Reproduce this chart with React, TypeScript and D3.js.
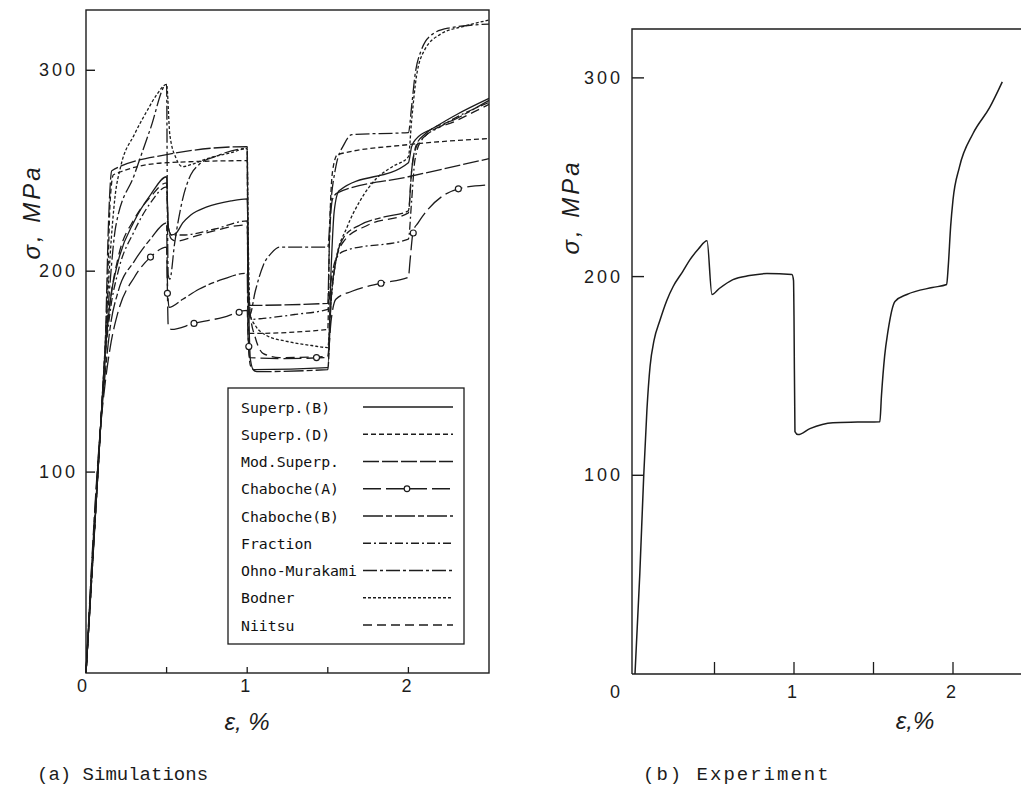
import * as d3 from 'd3';

type Pt = [number, number];

// strain (%), stress (MPa)
const superpB: Pt[] = [
  [0, 0], [0.09, 122], [0.12, 160], [0.15, 185], [0.2, 205], [0.3, 225], [0.4, 238], [0.5, 247],
  [0.51, 222], [0.53, 218], [0.56, 219], [0.6, 224], [0.65, 228], [0.75, 232], [0.9, 235], [1.0, 236],
  [1.01, 180], [1.02, 156], [1.04, 151], [1.5, 152], [1.52, 200], [1.54, 230], [1.57, 240], [2.0, 254],
  [2.02, 262], [2.05, 266], [2.15, 271], [2.3, 278], [2.5, 286],
];
const superpD: Pt[] = [
  [0, 0], [0.09, 122], [0.13, 180], [0.15, 235], [0.17, 248], [0.5, 254], [1.0, 255],
  [1.005, 200], [1.01, 169], [1.5, 171], [1.51, 215], [1.53, 250], [1.56, 258], [2.0, 263], [2.5, 266],
];
const modSuperp: Pt[] = [
  [0, 0], [0.09, 122], [0.12, 165], [0.14, 225], [0.16, 250], [0.5, 258], [1.0, 262],
  [1.005, 200], [1.01, 183], [1.5, 184], [1.51, 215], [1.53, 236], [1.56, 239], [2.0, 247], [2.5, 256],
];
const chabocheA: Pt[] = [
  [0, 0], [0.09, 122], [0.12, 145], [0.15, 162], [0.2, 180], [0.3, 197], [0.4, 207], [0.5, 212],
  [0.505, 190], [0.51, 173], [0.53, 171], [0.67, 174], [0.85, 177], [1.0, 180.5],
  [1.005, 168], [1.015, 157], [1.2, 156.5], [1.5, 157], [1.52, 175], [1.55, 186], [1.65, 190],
  [1.83, 194], [2.0, 197], [2.01, 205], [2.03, 220], [2.06, 224], [2.31, 241], [2.5, 243],
];
const chabocheAMarks: Pt[] = [
  [0.4, 207], [0.505, 189], [0.67, 174], [0.95, 179.5], [1.01, 162.5], [1.43, 157],
  [1.83, 194], [2.03, 219], [2.31, 241],
];
const chabocheB: Pt[] = [
  [0, 0], [0.09, 122], [0.12, 150], [0.15, 172], [0.2, 190], [0.3, 205], [0.4, 216], [0.5, 224],
  [0.505, 195], [0.515, 182], [0.6, 186], [0.7, 191], [0.85, 196], [1.0, 199],
  [1.005, 170], [1.02, 153], [1.06, 150], [1.5, 151], [1.52, 185], [1.55, 205], [1.6, 217],
  [1.7, 223], [1.85, 227], [2.0, 230], [2.02, 250], [2.05, 263], [2.1, 268], [2.3, 276], [2.5, 285],
];
const fraction: Pt[] = [
  [0, 0], [0.09, 122], [0.12, 158], [0.15, 180], [0.2, 200], [0.3, 220], [0.4, 234], [0.5, 242],
  [0.51, 222], [0.53, 218], [0.6, 218], [0.8, 221], [1.0, 225],
  [1.005, 190], [1.02, 176], [1.1, 176.5], [1.3, 178.5], [1.5, 181], [1.52, 195], [1.55, 206],
  [1.6, 210], [2.0, 216], [2.02, 235], [2.04, 255], [2.08, 265], [2.2, 272], [2.5, 284],
];
const ohnoMurakami: Pt[] = [
  [0, 0], [0.09, 122], [0.12, 160], [0.15, 195], [0.184, 222], [0.3, 248], [0.4, 271], [0.5, 293],
  [0.505, 230], [0.51, 198], [0.52, 196], [0.55, 214], [0.6, 236], [0.65, 248], [0.7, 253],
  [0.8, 257], [1.0, 261], [1.005, 200], [1.015, 178], [1.05, 190], [1.1, 203], [1.15, 209],
  [1.2, 212], [1.5, 212], [1.52, 235], [1.55, 252], [1.6, 263], [1.65, 268], [2.0, 269],
  [2.02, 282], [2.04, 297], [2.08, 310], [2.15, 318], [2.25, 321], [2.5, 323],
];
const bodner: Pt[] = [
  [0, 0], [0.09, 122], [0.11, 150], [0.13, 180], [0.15, 208], [0.18, 237], [0.215, 252],
  [0.3, 268], [0.38, 280], [0.44, 288], [0.5, 293], [0.52, 268], [0.56, 256], [0.6, 252],
  [0.65, 253], [0.75, 256], [0.9, 259], [1.0, 261], [1.005, 225], [1.02, 178], [1.05, 173],
  [1.12, 168], [1.25, 165], [1.4, 163], [1.5, 162], [1.52, 185], [1.55, 205], [1.62, 222],
  [1.7, 235], [1.8, 246], [1.9, 252], [2.0, 257], [2.02, 275], [2.05, 297], [2.1, 310],
  [2.2, 318], [2.35, 322], [2.5, 325],
];
const niitsu: Pt[] = [
  [0, 0], [0.09, 122], [0.12, 162], [0.15, 185], [0.2, 207], [0.3, 226], [0.4, 237], [0.5, 244],
  [0.51, 222], [0.53, 216], [0.56, 215], [0.7, 218], [1.0, 223], [1.005, 200], [1.02, 178],
  [1.05, 167], [1.1, 159], [1.2, 157], [1.5, 157.5], [1.52, 185], [1.55, 205], [1.6, 215],
  [1.75, 223], [2.0, 229], [2.02, 250], [2.05, 262], [2.1, 267], [2.3, 275], [2.5, 283],
];
const experiment: Pt[] = [
  [0, 0], [0.03, 50], [0.055, 100], [0.075, 133], [0.095, 155], [0.12, 168], [0.157, 178],
  [0.2, 188], [0.24, 195], [0.3, 202.5], [0.346, 208.5], [0.4, 214], [0.453, 218], [0.484, 191],
  [0.53, 194], [0.616, 198.5], [0.72, 200.5], [0.83, 201.5], [0.987, 201], [0.997, 198],
  [1.0, 180], [1.006, 122], [1.025, 120.5], [1.1, 123.5], [1.245, 126.5], [1.4, 126.8],
  [1.54, 127], [1.55, 140], [1.57, 160], [1.59, 172], [1.635, 187.5], [1.71, 191],
  [1.87, 194.5], [1.96, 196], [1.97, 205], [1.985, 225], [2.0, 238.6], [2.04, 255],
  [2.126, 272], [2.23, 285], [2.31, 298],
];

const legendNames = [
  'Superp.(B)', 'Superp.(D)', 'Mod.Superp.', 'Chaboche(A)', 'Chaboche(B)',
  'Fraction', 'Ohno-Murakami', 'Bodner', 'Niitsu',
];
const simData = [superpB, superpD, modSuperp, chabocheA, chabocheB, fraction, ohnoMurakami, bodner, niitsu];

const yTicks = [100, 200, 300];
const xTicks = [0.5, 1, 1.5, 2];
const xTickLabels = [0, 1, 2];

const dashes: Record<string, string> = {
  'Superp.(B)': '',
  'Superp.(D)': '5 3',
  'Mod.Superp.': '16 3',
  'Chaboche(A)': '18 5',
  'Chaboche(B)': '20 3 6 3',
  Fraction: '8 3 2 3',
  'Ohno-Murakami': '14 3 3 3',
  Bodner: '3 2',
  Niitsu: '9 5',
};

const ink = '#1c1c1c';
const tickFont = '"Liberation Sans", sans-serif';

const xa = d3.scaleLinear().domain([0, 2.5]).range([86, 489]);
const ya = d3.scaleLinear().domain([0, 330]).range([673, 10]);
const xb = d3.scaleLinear().domain([0, 2.5]).range([635, 1032.5]);
const yb = d3.scaleLinear().domain([0, 324.6]).range([674, 29]);

function Legend() {
  const left = 228, top = 388, w = 236, h = 256;
  const rowY = d3.scalePoint<string>().domain(legendNames).range([top + 19, top + 237]);
  return (
    <g>
      <rect x={left} y={top} width={w} height={h} fill="white" stroke={ink} strokeWidth={1.3} />
      {legendNames.map((name) => {
        const y = rowY(name) as number;
        return (
          <g key={name}>
            <text x={241} y={y} dominantBaseline="central" fontFamily='"DejaVu Sans Mono", monospace'
              fontSize={14.8} fill="#111">{name}</text>
            <line x1={363} x2={453} y1={y} y2={y} stroke={ink} strokeWidth={1.3}
              strokeDasharray={dashes[name] || undefined} />
            {name === 'Chaboche(A)' && (
              <circle cx={407} cy={y} r={2.8} fill="white" stroke={ink} strokeWidth={1.2} />
            )}
          </g>
        );
      })}
    </g>
  );
}

export default function App() {
  // strain increases strictly along every series, so monotone-x keeps corners without overshoot
  const lineA = d3.line<Pt>().x((d) => xa(d[0])).y((d) => ya(d[1])).curve(d3.curveMonotoneX);
  const lineB = d3.line<Pt>().x((d) => xb(d[0])).y((d) => yb(d[1])).curve(d3.curveMonotoneX);

  return (
    <svg width={1021} height={795} viewBox="0 0 1021 795"
      style={{ position: 'absolute', left: 0, top: 0, background: 'white' }}>
      <rect width={1021} height={795} fill="white" />

      {/* (a) simulations */}
      <g>
        <rect x={xa(0)} y={ya(330)} width={xa(2.5) - xa(0)} height={ya(0) - ya(330)}
          fill="none" stroke={ink} strokeWidth={1.4} />
        {yTicks.map((v) => (
          <g key={v}>
            <line x1={xa(0)} x2={xa(0) + 9} y1={ya(v)} y2={ya(v)} stroke={ink} strokeWidth={1.4} />
            <text x={78} y={ya(v)} textAnchor="end" dominantBaseline="central" fontFamily={tickFont}
              fontSize={18} letterSpacing={3} fill={ink}>{v}</text>
          </g>
        ))}
        {xTicks.map((v) => (
          <line key={v} x1={xa(v)} x2={xa(v)} y1={ya(0)} y2={ya(0) - 6} stroke={ink} strokeWidth={1.3} />
        ))}
        {xTickLabels.map((v) => (
          <text key={v} x={v === 0 ? xa(0) - 4 : xa(v) - 2} y={686} textAnchor="middle"
            dominantBaseline="central" fontFamily={tickFont} fontSize={18} fill={ink}>{v}</text>
        ))}
        {simData.map((data, i) => (
          <path key={legendNames[i]} d={lineA(data) ?? ''} fill="none" stroke={ink} strokeWidth={1.3}
            strokeLinejoin="round" strokeDasharray={dashes[legendNames[i]] || undefined} />
        ))}
        {chabocheAMarks.map((d, i) => (
          <circle key={i} cx={xa(d[0])} cy={ya(d[1])} r={3} fill="white" stroke={ink} strokeWidth={1.2} />
        ))}
        <Legend />
        <text transform="translate(31,212) rotate(-90)" textAnchor="middle" dominantBaseline="central"
          fontFamily={tickFont} fontStyle="italic" fontSize={24} letterSpacing={3} fill={ink}>σ, MPa</text>
        <text x={247} y={721} textAnchor="middle" dominantBaseline="central" fontFamily={tickFont}
          fontStyle="italic" fontSize={24} fill={ink}>ε, %</text>
        <text x={37} y={780} fontFamily='"Liberation Mono", monospace' fontSize={19} fill={ink}>(a) Simulations</text>
      </g>

      {/* (b) experiment */}
      <g>
        <path d={`M${xb(0) - 3},${yb(0)} V${yb(324.6)} H1030`} fill="none" stroke={ink} strokeWidth={1.4} />
        <path d={`M${xb(0) - 3},${yb(0)} H1030`} fill="none" stroke={ink} strokeWidth={1.4} />
        {yTicks.map((v) => (
          <g key={v}>
            <line x1={xb(0) - 3} x2={xb(0) + 9} y1={yb(v)} y2={yb(v)} stroke={ink} strokeWidth={1.4} />
            <text x={623} y={yb(v)} textAnchor="end" dominantBaseline="central" fontFamily={tickFont}
              fontSize={18} letterSpacing={3} fill={ink}>{v}</text>
          </g>
        ))}
        {xTicks.map((v) => (
          <line key={v} x1={xb(v)} x2={xb(v)} y1={yb(0)} y2={yb(0) - 12} stroke={ink} strokeWidth={1.3} />
        ))}
        {xTickLabels.map((v) => (
          <text key={v} x={v === 0 ? xb(0) - 20 : xb(v) - 2} y={692} textAnchor="middle"
            dominantBaseline="central" fontFamily={tickFont} fontSize={18} fill={ink}>{v}</text>
        ))}
        <path d={lineB(experiment) ?? ''} fill="none" stroke={ink} strokeWidth={1.5} strokeLinejoin="round" />
        <text transform="translate(570,207) rotate(-90)" textAnchor="middle" dominantBaseline="central"
          fontFamily={tickFont} fontStyle="italic" fontSize={24} letterSpacing={3} fill={ink}>σ, MPa</text>
        <text x={915} y={720} textAnchor="middle" dominantBaseline="central" fontFamily={tickFont}
          fontStyle="italic" fontSize={24} fill={ink}>ε,%</text>
        <text x={643} y={780} fontFamily='"Liberation Mono", monospace' fontSize={19} letterSpacing={2}
          fill={ink}>(b) Experiment</text>
      </g>
    </svg>
  );
}
